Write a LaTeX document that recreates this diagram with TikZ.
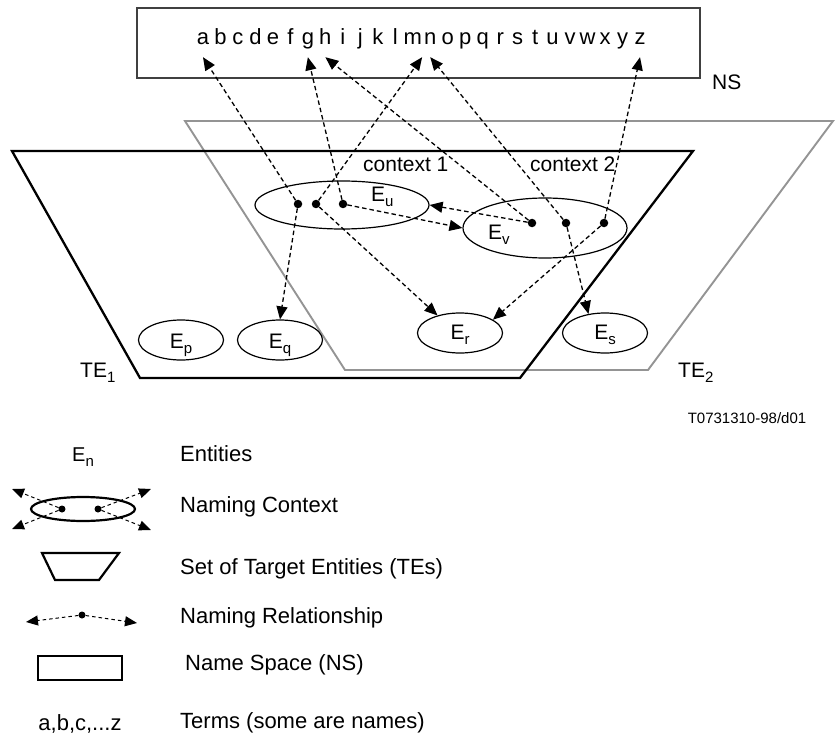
\documentclass[tikz,border=0pt]{standalone}
\usepackage{fontspec}
\setmainfont{Liberation Sans}
\usepackage{tikz}
\usetikzlibrary{shapes.geometric,arrows.meta,positioning,calc}
\newcommand{\lsub}[1]{\raisebox{-5pt}{\fontsize{15}{15}\selectfont #1}}
\tikzset{
	entell/.style={ellipse, draw=black, line width=1.2pt, inner sep=0pt,
		minimum width=85pt, minimum height=40pt},
	ndot/.style={circle, fill=black, inner sep=0pt, minimum size=8.5pt},
	relarr/.style={-{Triangle[length=13pt,width=11pt]}, line width=1.3pt, dash pattern=on 4.5pt off 3pt},
	legarr/.style={-{Triangle[length=12pt,width=10pt]}, line width=1pt, dash pattern=on 3.5pt off 3pt},
	termtxt/.style={font=\fontsize{22}{26}\selectfont, inner sep=0pt, text depth=12pt, anchor=base},
	lbltxt/.style={font=\fontsize{21}{25}\selectfont, inner sep=0pt, anchor=base west},
	legtxt/.style={font=\fontsize{22}{26}\selectfont, inner sep=0pt, anchor=base west}
}
\begin{document}
\begin{tikzpicture}[x=1pt, y=-1pt]
	\useasboundingbox (0,0) rectangle (835,738);
	% name space with its terms
	\node[draw=black!75, line width=1.3pt, minimum width=563pt, minimum height=70pt, inner sep=0pt] (ns) at (418.5,43) {};
	\foreach \l [count=\i from 0] in {a,...,z}
		\node[termtxt] (l\l) at ({203+17.48*\i},45) {\l};
	\node[lbltxt] (nslbl) at (712,90) {NS};
	% the two sets of target entities
	\draw[draw=black!42, line width=1.9pt] (185,121) -- (833,121) -- (648,370) -- (345,370) -- cycle;
	\draw[line width=2.3pt] (12,151) -- (693,151) -- (520,378) -- (140,378) -- cycle;
	\node[lbltxt] (te1) at (80,377) {TE\lsub{1}};
	\node[lbltxt] (te2) at (678,377) {TE\lsub{2}};
	\node[lbltxt] (ctx1) at (363,172) {context 1};
	\node[lbltxt] (ctx2) at (530,172) {context 2};
	% entities
	\node[entell, minimum width=174pt, minimum height=48pt] (eu) at (342,205) {};
	\node[entell, minimum width=164pt, minimum height=60pt] (ev) at (545,228) {};
	\node[entell] (ep) at (181,340) {};
	\node[entell] (eq) at (280,340) {};
	\node[entell] (er) at (460,333) {};
	\node[entell] (es) at (605,333) {};
	\node[lbltxt] (eulbl) at (371,202) {E\lsub{u}};
	\node[lbltxt] (evlbl) at (488,240) {E\lsub{v}};
	\node[lbltxt, anchor=base] (eplbl) at ([yshift=-8pt]ep.center) {E\lsub{p}};
	\node[lbltxt, anchor=base] (eqlbl) at ([yshift=-8pt]eq.center) {E\lsub{q}};
	\node[lbltxt, anchor=base] (erlbl) at ([yshift=-6pt]er.center) {E\lsub{r}};
	\node[lbltxt, anchor=base] (eslbl) at ([yshift=-6pt]es.center) {E\lsub{s}};
	% naming relationships
	\node[ndot] (u1) at (298,204) {};
	\node[ndot] (u2) at (316,204) {};
	\node[ndot] (u3) at (343,204) {};
	\node[ndot] (v1) at (532,223) {};
	\node[ndot] (v2) at (566,223) {};
	\node[ndot] (v3) at (604,223) {};
	\draw[relarr] (u1) -- (la.south);
	\draw[relarr] (u1) -- (eq.north);
	\draw[relarr] (u2) -- (lm.south east);
	\draw[relarr] (u2) -- (er.142);
	\draw[relarr] (u3) -- (lg.south);
	\draw[relarr] (u3) -- (ev.west);
	\draw[relarr] (v1) -- (eu.east);
	\draw[relarr] (v1) -- (lh.south);
	\draw[relarr] (v2) -- (ln.south);
	\draw[relarr] (v2) -- (es.131);
	\draw[relarr] (v3) -- (lz.south);
	\draw[relarr] (v3) -- (er.22);
	\node[inner sep=0pt, font=\fontsize{15}{18}\selectfont] (figid) at (747,418) {T0731310-98/d01};
	% legend
	\node[lbltxt, font=\fontsize{20}{24}\selectfont] (enlbl) at (72,461) {E\lsub{n}};
	\node[legtxt] (t1) at (180,461) {Entities};
	\node[entell, line width=2.2pt, minimum width=104pt, minimum height=24pt] (lctx) at (83,509) {};
	\node[ndot, minimum size=7pt] (c1) at (62,509) {};
	\node[ndot, minimum size=7pt] (c2) at (98,509) {};
	\coordinate (k1) at (12,489);
	\coordinate (k2) at (12,529);
	\coordinate (k3) at (151,489);
	\coordinate (k4) at (151,530);
	\draw[legarr] (c1) -- (k1);
	\draw[legarr] (c1) -- (k2);
	\draw[legarr] (c2) -- (k3);
	\draw[legarr] (c2) -- (k4);
	\node[legtxt] (t2) at (180,512) {Naming Context};
	\draw[line width=2.2pt] (42,553) -- (119,553) -- (99,580) -- (55,580) -- cycle;
	\node[legtxt] (t3) at (180,574) {Set of Target Entities (TEs)};
	\node[ndot, minimum size=7pt] (r0) at (82,615) {};
	\coordinate (r1) at (26,622);
	\coordinate (r2) at (137,623);
	\draw[legarr] (r0) -- (r1);
	\draw[legarr] (r0) -- (r2);
	\node[legtxt] (t4) at (180,623) {Naming Relationship};
	\node[draw, line width=1.6pt, minimum width=84pt, minimum height=24pt, inner sep=0pt] (lns) at (80,668) {};
	\node[legtxt] (t5) at (185,670) {Name Space (NS)};
	\node[termtxt, text depth=0pt] (lterm) at (80,730) {a,b,c,...z};
	\node[legtxt] (t6) at (180,728) {Terms (some are names)};
\end{tikzpicture}
\end{document}
